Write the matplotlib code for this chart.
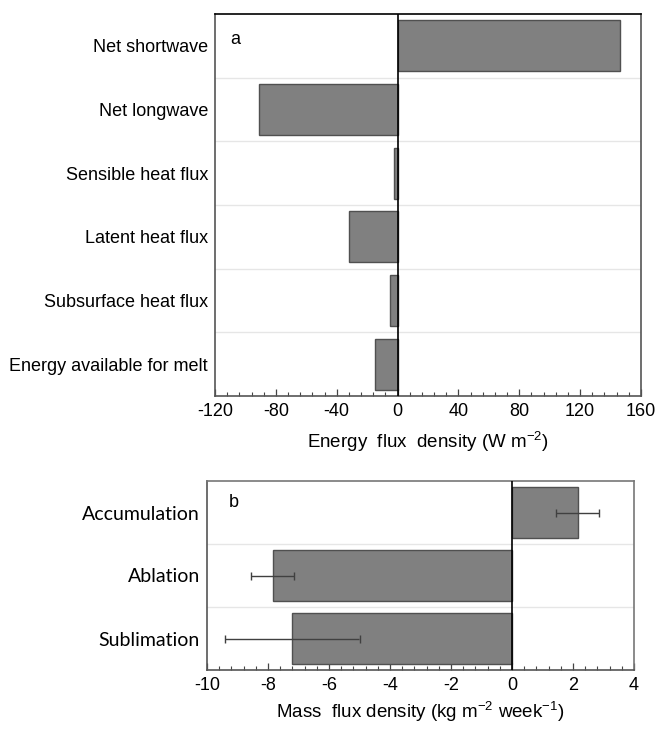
import matplotlib.pyplot as plt
from matplotlib.ticker import MultipleLocator

plt.rcParams["font.family"] = ["Liberation Sans", "DejaVu Sans"]
plt.rcParams["axes.unicode_minus"] = False
plt.rcParams["mathtext.fontset"] = "custom"
plt.rcParams["mathtext.rm"] = "Liberation Sans"

# Panel a: surface energy balance components
energy_terms = ["Net shortwave", "Net longwave", "Sensible heat flux",
                "Latent heat flux", "Subsurface heat flux", "Energy available for melt"]
energy_flux = [146, -91, -2.4, -32, -5, -15]

# Panel b: mass balance components
mass_terms = ["Accumulation", "Ablation", "Sublimation"]
mass_flux = [2.15, -7.85, -7.2]
mass_err = [0.7, 0.7, 2.2]

W, H = 657, 729
fig = plt.figure(figsize=(W / 100, H / 100), dpi=100)

bar_col = "#808080"
edge_col = "#505050"
grid_col = "#e6e6e6"


def box(l, t, r, b):
    return [l / W, 1 - b / H, (r - l) / W, (b - t) / H]


def style(ax, major, minor):
    ax.xaxis.set_major_locator(MultipleLocator(major))
    ax.xaxis.set_minor_locator(MultipleLocator(minor))
    ax.tick_params(axis="x", which="major", direction="in", length=5, width=0.9,
                   color="#444444", labelsize=13, pad=5)
    ax.tick_params(axis="x", which="minor", direction="in", length=3, width=0.8,
                   color="#444444")
    ax.tick_params(axis="y", length=0, pad=5)
    for s in ax.spines.values():
        s.set_color("#555555")
        s.set_linewidth(1.2)
    ax.axvline(0, color="black", lw=1.2, zorder=3)


# ---- panel a ----
ax1 = fig.add_axes(box(215, 14, 641, 396))
ya = list(range(len(energy_terms)))
ax1.barh(ya, energy_flux, height=0.8, color=bar_col, edgecolor=edge_col,
         linewidth=1.0, zorder=2)
for y in ya[:-1]:
    ax1.axhline(y + 0.5, color=grid_col, lw=1.0, zorder=1)
ax1.set_xlim(-120, 160)
ax1.set_ylim(len(energy_terms) - 0.5, -0.5)
ax1.set_yticks(ya)
ax1.set_yticklabels(energy_terms, fontsize=13)
style(ax1, 40, 8)
ax1.spines["top"].set_color("black")
ax1.set_xlabel("Energy  flux  density (W m$^{\\mathrm{-2}}$)", fontsize=13.5, labelpad=7)
ax1.text(0.035, 0.955, "a", transform=ax1.transAxes, fontsize=13, va="top")

# ---- panel b ----
ax2 = fig.add_axes(box(207, 481, 634, 670))
yb = list(range(len(mass_terms)))
ax2.barh(yb, mass_flux, height=0.8, color=bar_col, edgecolor=edge_col,
         linewidth=1.0, zorder=2)
ax2.errorbar(mass_flux, yb, xerr=mass_err, fmt="none", ecolor="#404040",
             elinewidth=1.0, capsize=3, capthick=1.0, zorder=4)
for y in yb[:-1]:
    ax2.axhline(y + 0.5, color=grid_col, lw=1.0, zorder=1)
ax2.set_xlim(-10, 4)
ax2.set_ylim(len(mass_terms) - 0.5, -0.5)
ax2.set_yticks(yb)
ax2.set_yticklabels(mass_terms, fontsize=14, family=["Lato", "DejaVu Sans"])
style(ax2, 2, 0.4)
ax2.spines["right"].set_color("#777777")
ax2.spines["top"].set_color("#777777")
ax2.set_xlabel("Mass  flux density (kg m$^{\\mathrm{-2}}$ week$^{\\mathrm{-1}}$)",
               fontsize=13.5, labelpad=4)
ax2.text(0.05, 0.93, "b", transform=ax2.transAxes, fontsize=13, va="top")

fig.savefig("out.png", dpi=100)
